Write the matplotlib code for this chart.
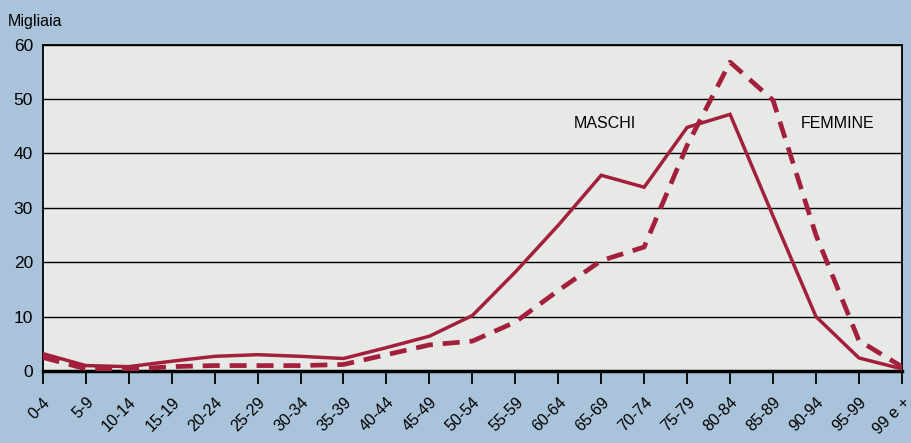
#!/usr/bin/env python3
# Popolazione per classi di eta: maschi e femmine (migliaia)

import numpy as np
import matplotlib.pyplot as plt

plt.rcParams['font.family'] = ['Liberation Sans', 'DejaVu Sans']

# Age classes on the x axis
classi = ['0-4', '5-9', '10-14', '15-19', '20-24', '25-29', '30-34',
          '35-39', '40-44', '45-49', '50-54', '55-59', '60-64', '65-69',
          '70-74', '75-79', '80-84', '85-89', '90-94', '95-99', '99 e +']

# Values, thousands
maschi = [3.2, 1.0, 0.8, 1.8, 2.7, 3.0, 2.7, 2.3, 4.3, 6.4, 10.2, 18.2,
          26.8, 36.0, 33.8, 44.8, 47.2, 28.5, 10.0, 2.4, 0.4]
femmine = [2.5, 0.4, 0.3, 0.8, 1.0, 1.0, 1.0, 1.2, 3.0, 4.8, 5.5, 9.0,
           14.8, 20.3, 22.8, 41.5, 56.8, 49.8, 25.0, 5.6, 0.8]

bg = '#a9c3da'
panel = '#e6e9e6'
red = '#a3203d'

fig = plt.figure("Migliaia", figsize=(9.11, 4.43), dpi=100, facecolor=bg)
ax = fig.add_axes([0.047, 0.1625, 0.943, 0.7365], facecolor=panel)

x = np.arange(len(classi))
ax.plot(x, maschi, color=red, lw=2.5, solid_joinstyle='miter', zorder=3)
ax.plot(x, femmine, color=red, lw=3.4, dashes=(3.6, 2.1), zorder=3)

ax.set_xlim(0, len(classi) - 1)
ax.set_ylim(0, 60)
ax.set_yticks(range(0, 61, 10))
ax.yaxis.grid(True, color='black', lw=1.0)
ax.set_axisbelow(True)
ax.tick_params(axis='y', length=0, labelsize=12.5, pad=7)

ax.set_xticks(x)
ax.set_xticklabels(classi, rotation=45, ha='right', va='top',
                   rotation_mode='anchor', fontsize=11.5)
ax.tick_params(axis='x', length=9, width=1.3, direction='out', pad=8)

for side in ['top', 'left', 'right']:
    ax.spines[side].set_linewidth(1.3)
ax.spines['bottom'].set_linewidth(2.5)

ax.text(13.08, 45.5, 'MASCHI', fontsize=11.5, ha='center', va='center')
ax.text(18.5, 45.5, 'FEMMINE', fontsize=11.5, ha='center', va='center')
fig.text(0.009, 0.952, 'Migliaia', fontsize=11.5, ha='left', va='center')

fig.savefig('out.png', dpi=100, facecolor=bg)
